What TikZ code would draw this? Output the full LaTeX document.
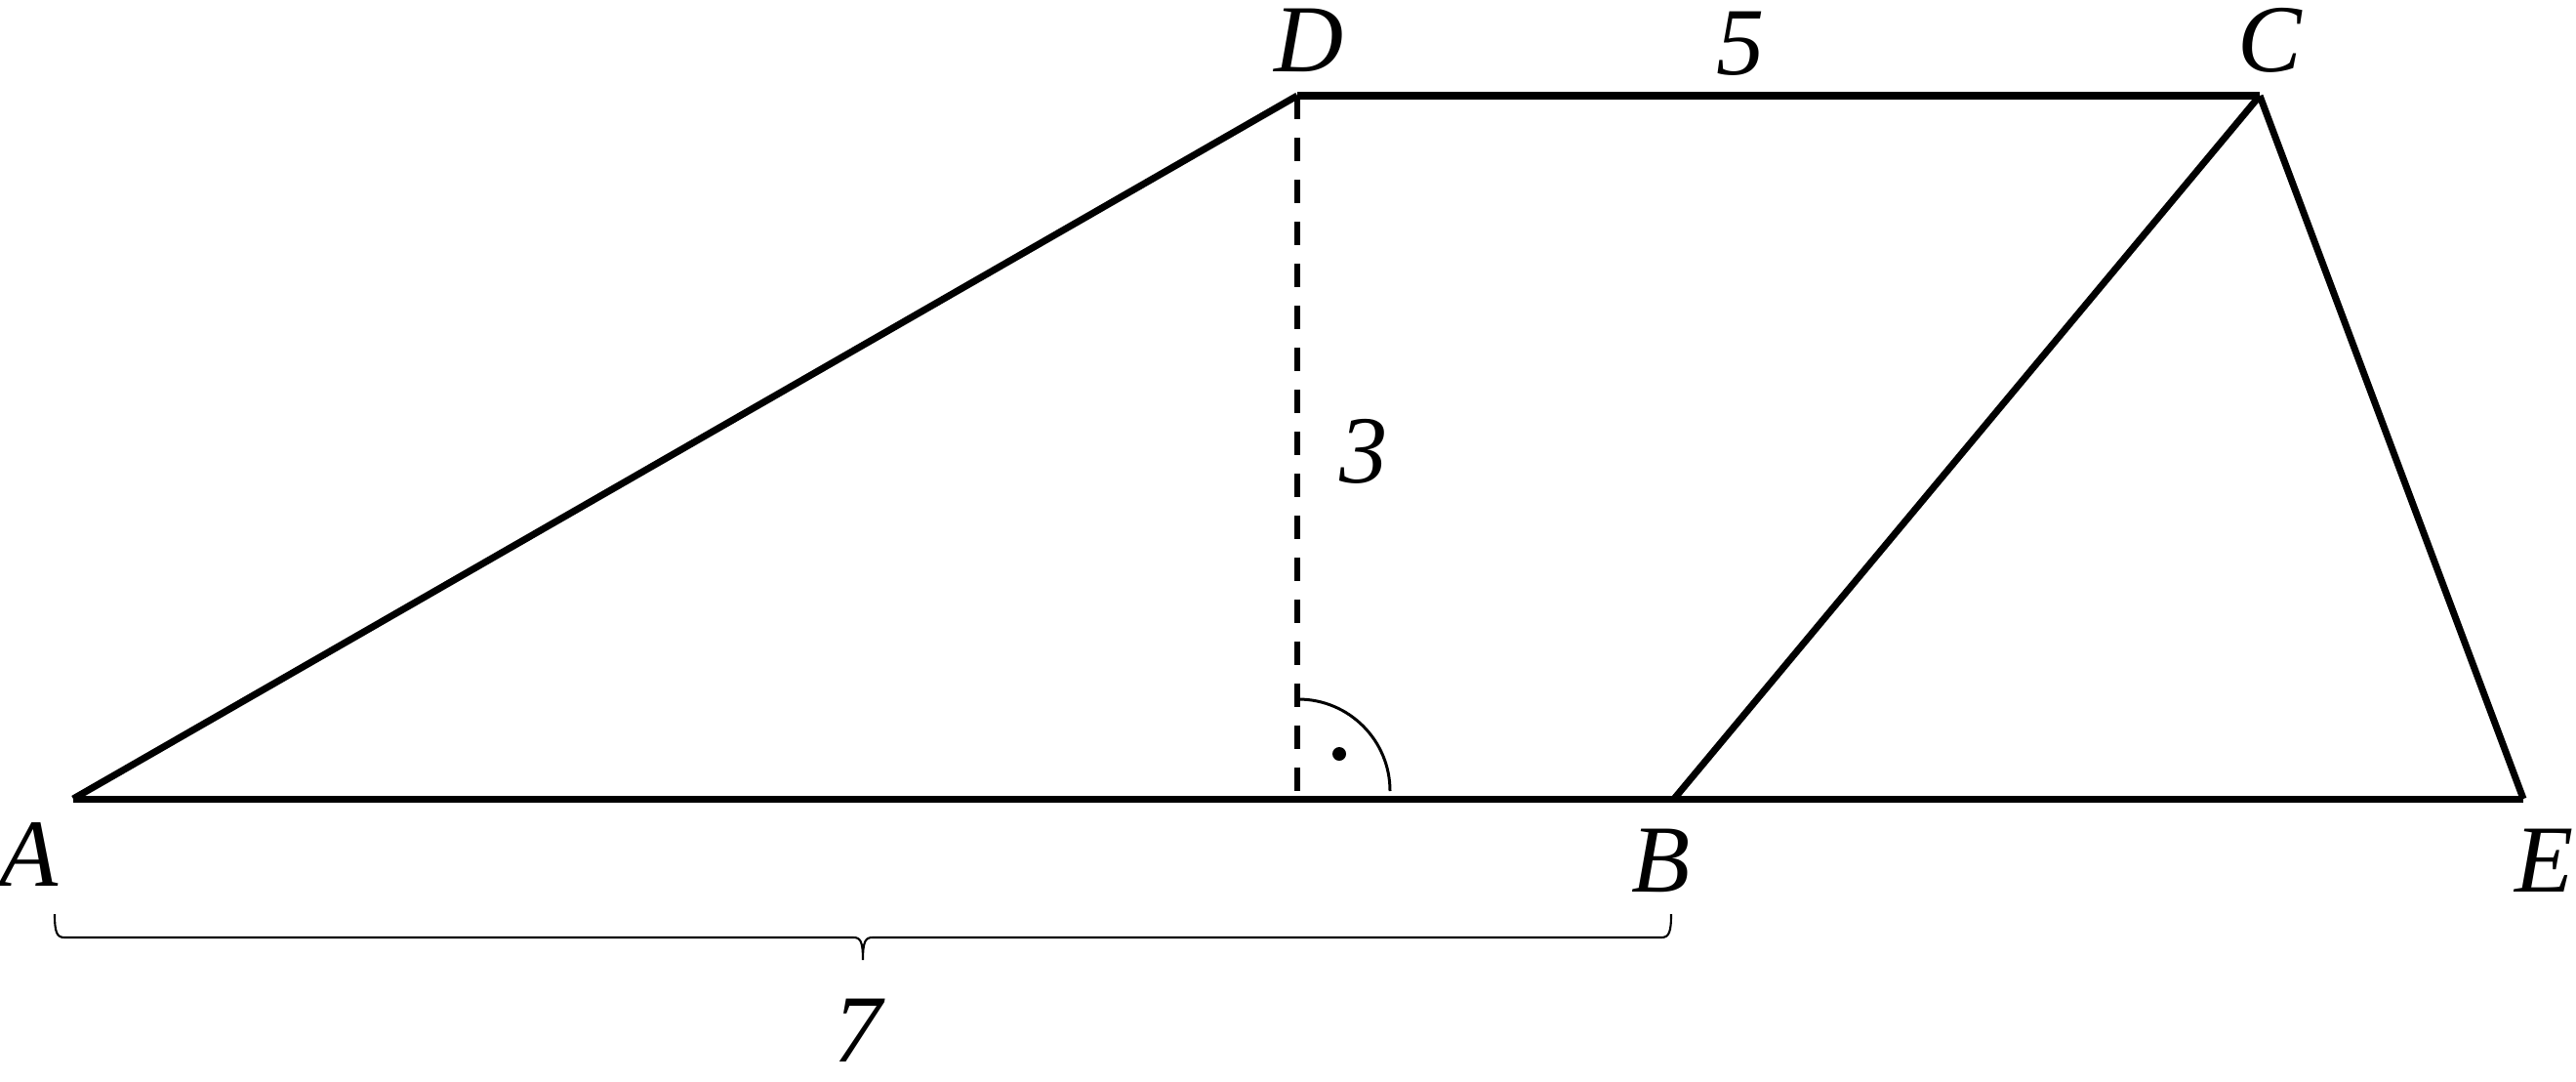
\documentclass[tikz,border=0pt]{standalone}
\usepackage{fontspec}
\setmainfont{Liberation Serif}

\tikzset{
  edge/.style={line width=2pt},
  height/.style={line width=1.7pt, dash pattern=on 0.24cm off 0.19cm},
  lbl/.style={inner sep=0pt, font=\fontsize{28}{32}\selectfont\itshape}
}

\begin{document}
\begin{tikzpicture}
  \useasboundingbox (0,0) rectangle (26.39,11.07);

  % vertices
  \coordinate (A) at (0.75,2.89);
  \coordinate (B) at (17.15,2.89);
  \coordinate (E) at (25.85,2.89);
  \coordinate (D) at (13.29,10.09);
  \coordinate (C) at (23.15,10.09);
  \coordinate (H) at (13.29,2.89);

  % trapezoid and triangle
  \draw[edge] (A) -- (D);
  \draw[edge] (D) -- (C);
  \draw[edge] (C) -- (B);
  \draw[edge] (C) -- (E);
  \draw[edge] (A) -- (E);
  \draw[height] (D) -- (H);

  % right angle
  \draw[line width=0.85pt] (14.24,2.97) arc (0:90:0.94);
  \fill (13.72,3.35) circle (0.07);

  % brace under AB
  \coordinate (bl) at (0.56,1.71);
  \coordinate (br) at (17.12,1.71);
  \draw[line width=0.6pt]
    (bl) .. controls (0.56,1.53) and (0.58,1.47) .. (0.66,1.47)
    -- (8.74,1.47) .. controls (8.81,1.47) and (8.84,1.44) .. (8.84,1.24)
    .. controls (8.84,1.44) and (8.87,1.47) .. (8.94,1.47)
    -- (17.02,1.47) .. controls (17.10,1.47) and (17.12,1.53) .. (br);

  % labels
  \node[lbl] (la) at (0.30,2.32) {A};
  \node[lbl] (lb) at (17.02,2.26) {B};
  \node[lbl] (le) at (26.07,2.26) {E};
  \node[lbl] (ld) at (13.41,10.66) {D};
  \node[lbl] (lc) at (23.25,10.66) {C};
  \node[lbl] (l5) at (17.83,10.62) {5};
  \node[lbl] (l3) at (13.97,6.45) {3};
  \node[lbl] (l7) at (8.79,0.52) {7};
\end{tikzpicture}
\end{document}
